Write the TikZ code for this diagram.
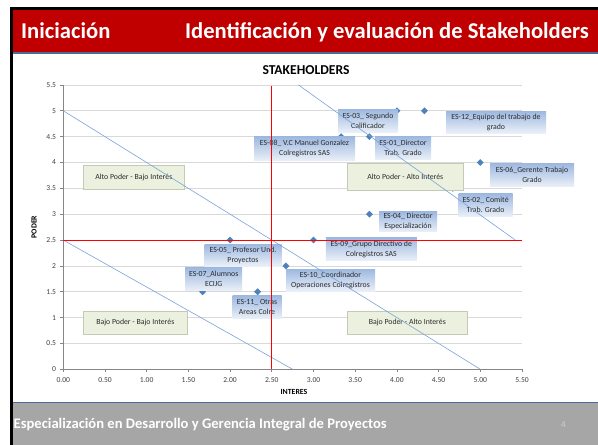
\documentclass[tikz,border=0pt]{standalone}
\usepackage{fontspec}
\setmainfont{Carlito}
\usetikzlibrary{shapes.geometric}
\definecolor{barred}{HTML}{C00000}
\definecolor{barblue}{HTML}{4A6C9B}
\definecolor{footgray}{HTML}{A6A6A6}
\definecolor{gridgray}{HTML}{D9D9D9}
\definecolor{axisgray}{HTML}{868686}
\definecolor{ptblue}{HTML}{4F81BD}
\definecolor{diagblue}{HTML}{7BA3D9}
\definecolor{lbltop}{HTML}{9DB8E0}
\definecolor{lblbot}{HTML}{EAF0F8}
\definecolor{quadfill}{HTML}{EBF1DE}
\definecolor{quaddraw}{HTML}{C4CBB4}
\definecolor{lbltext}{HTML}{2B2B2B}
\definecolor{ticktext}{HTML}{404040}
\definecolor{pagenum}{HTML}{D0D0D0}
\tikzset{
  lbl/.style={top color=lbltop, bottom color=lblbot, draw=none, inner sep=0pt, align=center,
    text=lbltext, font=\fontsize{7.8}{10}\selectfont},
  quad/.style={fill=quadfill, draw=quaddraw, line width=0.9pt, inner sep=0pt, text=lbltext,
    font=\fontsize{7.8}{10}\selectfont},
  ptmark/.style={diamond, fill=ptblue, inner sep=0pt, minimum size=7pt},
  gridline/.style={gridgray, line width=0.8pt},
  axisline/.style={axisgray, line width=0.8pt},
  diagline/.style={diagblue, line width=0.6pt},
  redline/.style={red, line width=1.1pt},
  ticklbl/.style={text=ticktext, font=\fontsize{7.6}{9}\selectfont, inner sep=0pt},
  axtitle/.style={text=black, font=\bfseries\fontsize{7.8}{9}\selectfont, inner sep=0pt}
}
\begin{document}
\begin{tikzpicture}[x=1pt,y=-1pt]
\useasboundingbox (0,0) rectangle (598,445);
\fill[white] (0,0) rectangle (598,445);
% frame
\fill[black] (10,7) rectangle (598,9.6);
\fill[black] (10,7) rectangle (12.6,445);
% title bar
\fill[barred] (12.6,9.6) rectangle (598,52);
\fill[barblue] (12.6,52) rectangle (598,53.6);
\node[anchor=base west, inner sep=0pt, text=white, font=\bfseries\fontsize{22.6}{25}\selectfont] (tleft) at (21,38.5) {Iniciación};
\node[anchor=base west, inner sep=0pt, text=white, font=\bfseries\fontsize{22.6}{25}\selectfont] (tright) at (185,38.5) {Identificación y evaluación de Stakeholders};
% footer
\fill[barblue] (12.6,401.5) rectangle (598,403.2);
\fill[footgray] (12.6,403.2) rectangle (598,445);
\node[anchor=west, inner sep=0pt, text=white, font=\bfseries\fontsize{14.6}{16}\selectfont] (foot) at (13.5,425) {Especialización en Desarrollo y Gerencia Integral de Proyectos};
\node[inner sep=0pt, text=pagenum, font=\fontsize{9}{10}\selectfont] (pnum) at (563.5,425) {4};
% chart title
\node[inner sep=0pt, font=\bfseries\fontsize{13.6}{15}\selectfont] (ctitle) at (306,70.5) {STAKEHOLDERS};
\node[axtitle, rotate=90] (ylab) at (34,227) {PODER};
\node[axtitle] (xlab) at (294,392) {INTERES};
% plot area
\begin{scope}[shift={(63.3,369.3)}, x=83.4pt, y=51.7pt]
  \foreach \v in {0.5,1,...,5.5} \draw[gridline] (0,\v) -- (5.5,\v);
  \draw[axisline] (0,5.5) -- (0,0) -- (5.5,0);
  \foreach \v [count=\i] in {0,0.5,...,5.5} \draw[axisline] (0,\v) -- ++(-3pt,0);
  \foreach \u [count=\i] in {0,0.5,...,5.5} \draw[axisline] (\u,0) -- ++(0,-3pt);
  \foreach \v/\t [count=\i] in {0/0,0.5/0.5,1/1,1.5/1.5,2/2,2.5/2.5,3/3,3.5/3.5,4/4,4.5/4.5,5/5,5.5/5.5}
    \node[ticklbl, anchor=east] (yt\i) at ([xshift=-7pt]0,\v) {\t};
  \foreach \u/\t [count=\i] in {0/0.00,0.5/0.50,1/1.00,1.5/1.50,2/2.00,2.5/2.50,3/3.00,3.5/3.50,4/4.00,4.5/4.50,5/5.00,5.5/5.50}
    \node[ticklbl, anchor=north] (xt\i) at ([yshift=-8pt]\u,0) {\t};
  % data points
  \node[ptmark] (m03) at (4,5) {};
  \node[ptmark] (m12) at (4.33,5) {};
  \node[ptmark] (m08) at (3.33,4.5) {};
  \node[ptmark] (m01) at (3.67,4.5) {};
  \node[ptmark] (m06) at (5,4) {};
  \node[ptmark] (m02) at (4.67,3.5) {};
  \node[ptmark] (m04) at (3.67,3) {};
  \node[ptmark] (m05) at (2,2.5) {};
  \node[ptmark] (m09) at (3,2.5) {};
  \node[ptmark] (m10) at (2.67,2) {};
  \node[ptmark] (m07) at (1.67,1.5) {};
  \node[ptmark] (m11) at (2.33,1.5) {};
\end{scope}
% data labels
\node[lbl, minimum width=60pt, minimum height=23pt] (l03) at (368,120.5) {ES-03\_ Segundo\\Calificador};
\node[lbl, minimum width=100pt, minimum height=22pt] (l12) at (496,122) {ES-12\_Equipo del trabajo de\\grado};
\node[lbl, minimum width=101pt, minimum height=24pt] (l08) at (304.5,148.7) {ES-08\_ V.C Manuel Gonzalez\\Colregistros SAS};
\node[lbl, minimum width=56pt, minimum height=23pt] (l01) at (403,148) {ES-01\_Director\\Trab. Grado};
\node[lbl, minimum width=84pt, minimum height=23pt] (l06) at (532,175) {ES-06\_Gerente Trabajo\\Grado};
\node[lbl, minimum width=54pt, minimum height=23pt] (l02) at (485.7,205) {ES-02\_ Comité\\Trab. Grado};
\node[lbl, minimum width=58pt, minimum height=20pt] (l04) at (408,221.7) {ES-04\_ Director\\Especialización};
\node[lbl, minimum width=91pt, minimum height=23pt] (l09) at (371.3,249) {ES-09\_Grupo Directivo de\\Colregistros SAS};
\node[lbl, minimum width=77pt, minimum height=22pt] (l05) at (243,255) {ES-05\_ Profesor Und.\\Proyectos};
\node[lbl, minimum width=57pt, minimum height=23pt] (l07) at (213.7,279) {ES-07\_Alumnos\\ECIJG};
\node[lbl, minimum width=89pt, minimum height=22pt] (l10) at (330.5,280) {ES-10\_Coordinador\\Operaciones Colregistros};
\node[lbl, minimum width=49pt, minimum height=23pt] (l11) at (257,307) {ES-11\_ Otras\\Areas Colre};
% quadrant boxes
\node[quad, minimum width=101pt, minimum height=24pt] (q1) at (133.8,177.3) {Alto Poder - Bajo Interés};
\node[quad, minimum width=116pt, minimum height=27pt] (q2) at (405.3,176.7) {Alto Poder - Alto Interés};
\node[quad, minimum width=104pt, minimum height=23pt] (q3) at (135.3,322.7) {Bajo Poder - Bajo Interés};
\node[quad, minimum width=120pt, minimum height=23pt] (q4) at (407.3,322.7) {Bajo Poder - Alto Interés};
% lines over labels
\begin{scope}[shift={(63.3,369.3)}, x=83.4pt, y=51.7pt]
  \coordinate (d1a) at (0,5);      \coordinate (d1b) at (5,0);
  \coordinate (d2a) at (0,2.5);    \coordinate (d2b) at (2.75,0);
  \coordinate (d3a) at (2.82,5.5); \coordinate (d3b) at (5.42,2.5);
  \draw[diagline] (d1a) -- (d1b);
  \draw[diagline] (d2a) -- (d2b);
  \draw[diagline] (d3a) -- (d3b);
  \coordinate (rha) at (0,2.5);    \coordinate (rhb) at (5.5,2.5);
  \coordinate (rva) at (2.5,5.48); \coordinate (rvb) at (2.5,0);
  \draw[redline] (rha) -- (rhb);
  \draw[redline] (rva) -- (rvb);
\end{scope}
\end{tikzpicture}
\end{document}
